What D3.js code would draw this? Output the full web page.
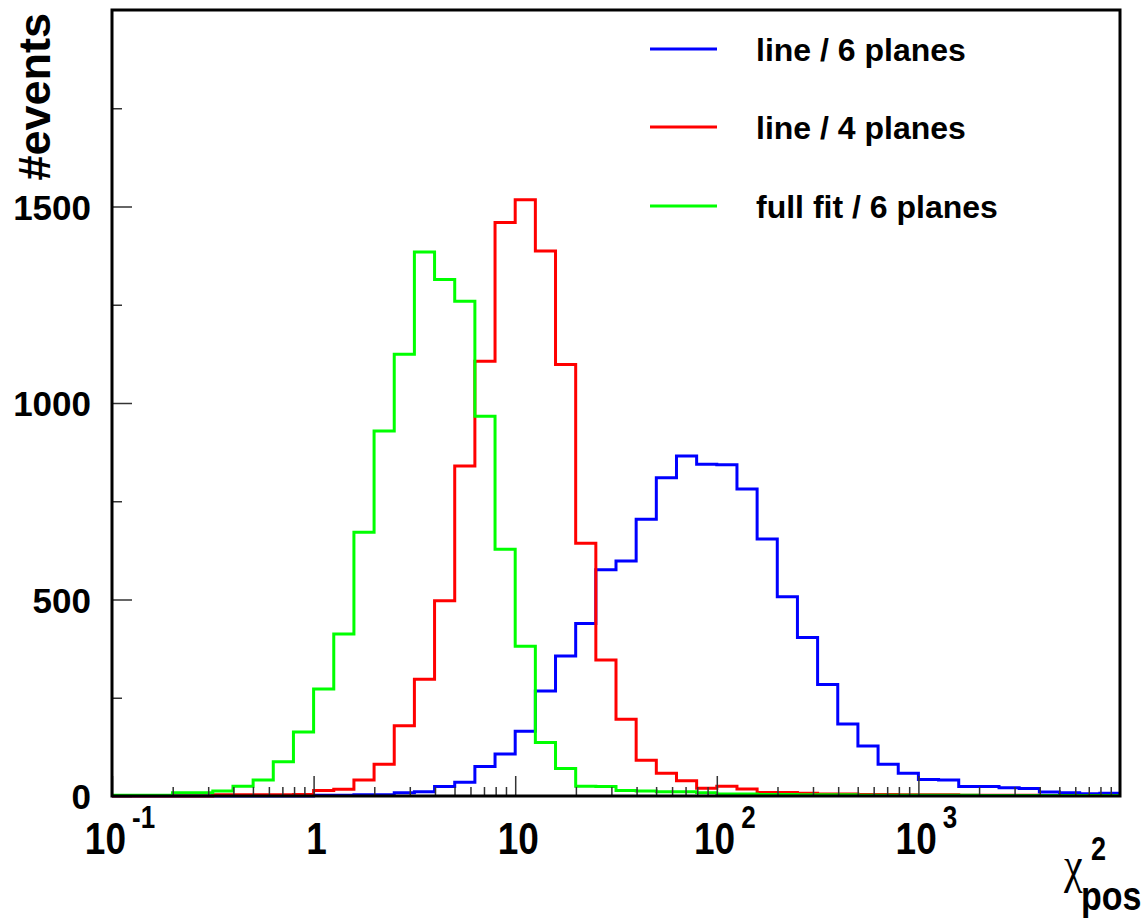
<!DOCTYPE html>
<html>
<head>
<meta charset="utf-8">
<script src="https://cdn.jsdelivr.net/npm/d3@7"></script>
<style>
  body { margin: 0; background: #fff; }
  text { font-family: "Liberation Sans", Arial, Helvetica, sans-serif; font-weight: bold; fill: #000; }
  text.greek { font-family: "Liberation Serif", "Times New Roman", serif; font-weight: normal; }
</style>
</head>
<body>
<div class="chart"></div>
<script>
// === Data (50 log bins, 0.1 decade each, from 10^-1 to 10^4) ===
const binLogStart = -1;
const binLogWidth = 0.1;

const line6Planes = [0, 0, 0, 0, 0, 0, 0, 0, 0, 0,
    2, 2, 3, 3, 8, 11, 24, 35, 75, 107,
    165, 267, 356, 439, 576, 598, 704, 810, 865, 844,
    843, 781, 654, 507, 403, 284, 183, 127, 81, 58,
    42, 41, 24, 24, 21, 19, 10, 8, 6, 7];

const line4Planes = [0, 0, 0, 0, 0, 3, 3, 3, 3, 4,
    14, 17, 41, 81, 179, 297, 497, 840, 1106, 1459,
    1517, 1387, 1098, 643, 346, 195, 91, 58, 39, 20,
    25, 18, 9, 9, 7, 5, 5, 4, 4, 3,
    3, 3, 2, 2, 2, 2, 1, 1, 1, 1];

const fullFit6Planes = [2, 2, 2, 8, 8, 13, 25, 41, 87, 163,
    272, 412, 671, 929, 1124, 1384, 1314, 1259, 966, 628,
    381, 136, 70, 25, 24, 14, 13, 11, 11, 8,
    5, 5, 4, 4, 3, 3, 3, 2, 2, 2,
    2, 2, 2, 1, 1, 1, 1, 1, 1, 1];

const seriesNames = ["line / 6 planes", "line / 4 planes", "full fit / 6 planes"];
const seriesColors = ["#0000ff", "#ff0000", "#00ff00"];

const yMajorTicks = [0, 500, 1000, 1500];
const yMinorTicks = [250, 750, 1250, 1750];
const xMajorTicks = [0.1, 1, 10, 100, 1000];
const xTickBase = ["10", "1", "10", "10", "10"];
const xTickExp = ["-1", "", "", "2", "3"];

// === Margin Convention ===
const margin = ({top: 10, right: 25, bottom: 126, left: 112});
const width = 1145 - margin.left - margin.right,
      height = 922 - margin.top - margin.bottom;

const root = d3.select(".chart").append("svg")
    .attr("width", 1145)
    .attr("height", 922);

const svg = root.append("g")
    .attr("transform", `translate(${margin.left},${margin.top})`);

// === Scales ===
const xScale = d3.scaleLog()
    .domain([0.1, 1e4])
    .range([0, width]);

const yScale = d3.scaleLinear()
    .domain([0, 2000])
    .range([height, 0]);

// minor x ticks: 2..9 in each decade
let xMinorTicks = [];
xMajorTicks.forEach(d => {
    for (let m = 2; m <= 9; m++) xMinorTicks.push(d * m);
});

// === Histograms ===
const edges = d3.range(line6Planes.length + 1).map(k => Math.pow(10, binLogStart + k * binLogWidth));

const stepLine = d3.line()
    .x(d => xScale(d[0]))
    .y(d => yScale(d[1]))
    .curve(d3.curveStepAfter);

[line6Planes, line4Planes, fullFit6Planes].forEach((values, i) => {
    const pts = values.map((v, k) => [edges[k], v]);
    pts.push([edges[values.length], values[values.length - 1]]);
    svg.append("path")
        .attr("d", stepLine(pts))
        .attr("fill", "none")
        .attr("stroke", seriesColors[i])
        .attr("stroke-width", 3);
});

// === Axes ===
function styleTicks(g) {
    g.select(".domain").remove();
    g.selectAll(".tick line").attr("stroke", "#333").attr("stroke-width", 1.5);
}

svg.append("g")
    .attr("transform", `translate(0,${height})`)
    .call(d3.axisBottom(xScale).tickValues(xMajorTicks).tickSize(-20).tickSizeOuter(0).tickFormat(""))
    .call(styleTicks);

svg.append("g")
    .attr("transform", `translate(0,${height})`)
    .call(d3.axisBottom(xScale).tickValues(xMinorTicks).tickSize(-9).tickSizeOuter(0).tickFormat(""))
    .call(styleTicks);

svg.append("g")
    .attr("class", "y-axis")
    .call(d3.axisLeft(yScale).tickValues(yMajorTicks).tickSize(-20).tickSizeOuter(0).tickPadding(21).tickFormat(d3.format("d")))
    .call(styleTicks)
    .call(g => g.selectAll("text")
        .style("font-size", "35px")
        .style("font-family", "Liberation Sans, Arial, sans-serif")
        .style("font-weight", "bold")
        .attr("fill", "#000")
        .attr("dy", "0.36em"));

svg.append("g")
    .call(d3.axisLeft(yScale).tickValues(yMinorTicks).tickSize(-10).tickSizeOuter(0).tickFormat(""))
    .call(styleTicks);

// frame
svg.append("rect")
    .attr("x", 0)
    .attr("y", 0)
    .attr("width", width)
    .attr("height", height)
    .attr("fill", "none")
    .attr("stroke", "#000")
    .attr("stroke-width", 3);

// x tick labels (10^n style)
xMajorTicks.forEach((v, i) => {
    const hasExp = xTickExp[i] !== "";
    const g = svg.append("g")
        .attr("transform", `translate(${xScale(v) + (hasExp ? 8 : 3)},${height + 58}) scale(1,1.2)`);
    const t = g.append("text")
        .attr("text-anchor", "middle")
        .attr("font-size", 37);
    t.append("tspan").text(xTickBase[i]);
    if (hasExp) {
        t.append("tspan")
            .attr("font-size", 26)
            .attr("dx", 6)
            .attr("dy", -22)
            .text(xTickExp[i]);
    }
});

// axes labels
root.append("text")
    .attr("transform", "translate(50,13) rotate(-90)")
    .attr("text-anchor", "end")
    .attr("font-size", 45)
    .text("#events");

root.append("text")
    .attr("class", "greek")
    .attr("transform", "translate(1064,882) scale(1,1.2)")
    .attr("font-size", 42)
    .text("χ");

root.append("text")
    .attr("transform", "translate(1091,860) scale(1,1.2)")
    .attr("font-size", 27)
    .text("2");

root.append("text")
    .attr("transform", "translate(1081,910) scale(1,1.2)")
    .attr("font-size", 34)
    .text("pos");

// === Legend ===
const legendX = 650;
const legendY = [49, 127, 206];

const legend = root.append("g").attr("class", "legend");

legend.selectAll("line")
    .data(seriesNames)
    .enter()
    .append("line")
    .attr("x1", legendX)
    .attr("x2", legendX + 67)
    .attr("y1", (d, i) => legendY[i])
    .attr("y2", (d, i) => legendY[i])
    .attr("stroke", (d, i) => seriesColors[i])
    .attr("stroke-width", 3);

legend.selectAll("text")
    .data(seriesNames)
    .enter()
    .append("text")
    .attr("x", legendX + 106)
    .attr("y", (d, i) => legendY[i] + 12)
    .attr("font-size", 32)
    .text(d => d);
</script>
</body>
</html>
